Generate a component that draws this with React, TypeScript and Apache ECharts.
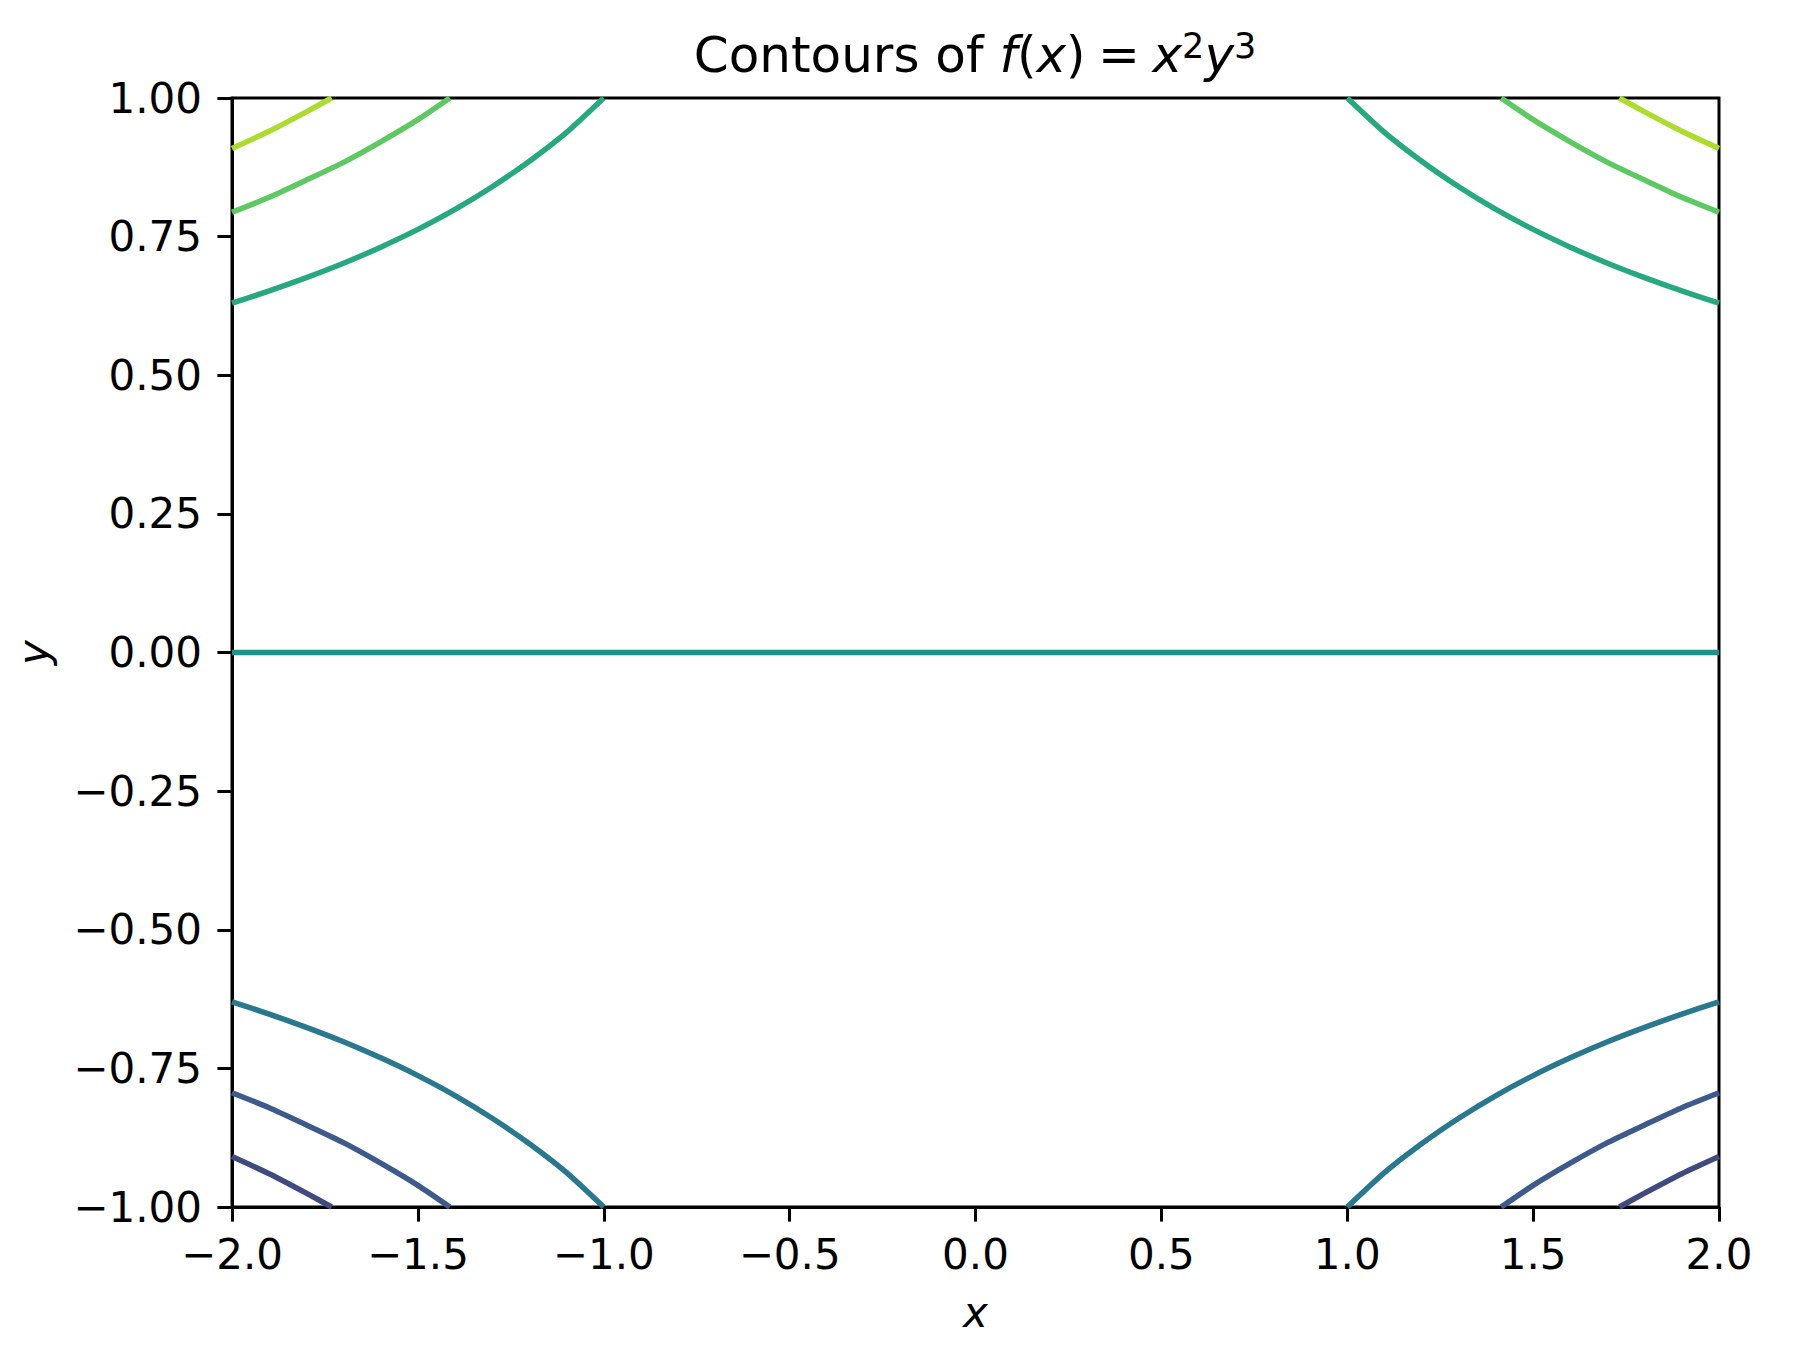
import React, { useEffect, useRef } from "react";
import * as echarts from "echarts";

// Contour levels of f = x^2 y^3 and their colours (viridis)
const levels = [-3, -2, -1, 0, 1, 2, 3];
const levelColors = ["#414a7f", "#3d5a8a", "#2a788e", "#21918c", "#28a880", "#5ec962", "#addc30"];

// Upper-left branch of each positive contour (x, y)
const branch1X = [-2.0, -1.9, -1.8, -1.7, -1.6, -1.5, -1.4, -1.3, -1.2, -1.1, -1.0];
const branch1Y = [0.63, 0.652, 0.676, 0.702, 0.731, 0.763, 0.799, 0.84, 0.886, 0.938, 1.0];
const branch2X = [-2.0, -1.9, -1.8, -1.7, -1.6, -1.5, -1.414];
const branch2Y = [0.794, 0.821, 0.852, 0.884, 0.921, 0.961, 1.0];
const branch3X = [-2.0, -1.9, -1.8, -1.732];
const branch3Y = [0.909, 0.94, 0.975, 1.0];
// Zero contour
const zeroX = [-2.0, 2.0];
const zeroY = [0.0, 0.0];

const xTicks = { min: -2, max: 2, interval: 0.5 };
const yTicks = { min: -1, max: 1, interval: 0.25 };

const FONT = "DejaVu Sans";

function App() {
  const ref = useRef<HTMLDivElement>(null);
  useEffect(() => {
    document.body.style.margin = "0";
    const chart = echarts.init(ref.current!, null, { renderer: "svg" });
    const branches: Record<number, { xs: number[]; ys: number[] }> = {
      1: { xs: branch1X, ys: branch1Y },
      2: { xs: branch2X, ys: branch2Y },
      3: { xs: branch3X, ys: branch3Y },
    };
    const series: any[] = [];
    levels.forEach((lv, i) => {
      const color = levelColors[i];
      const mk = (data: number[][]) => ({
        type: "line",
        data,
        symbol: "none",
        smooth: 0.2,
        lineStyle: { color, width: 5.5 },
        z: 2 + i,
        silent: true,
      });
      if (lv === 0) {
        series.push(mk(zeroX.map((x, k) => [x, zeroY[k]])));
        return;
      }
      const b = branches[Math.abs(lv)];
      const s = lv > 0 ? 1 : -1;
      series.push(mk(b.xs.map((x, k) => [x, s * b.ys[k]])));
      series.push(mk(b.xs.map((x, k) => [-x, s * b.ys[k]])));
    });
    const minus = (v: string) => v.replace("-", "\u2212");
    const axisFont = { fontFamily: FONT, fontSize: 42, color: "#000" };
    chart.setOption({
      animation: false,
      backgroundColor: "#fff",
      title: {
        text: "Contours of {i|f}({i|x})\u2005=\u2005{i|x}{s|2}{i|y}{s|3}",
        left: 970,
        textAlign: "center",
        top: 23,
        textStyle: {
          fontFamily: FONT,
          fontSize: 50,
          fontWeight: "normal",
          color: "#000",
          rich: {
            i: { fontFamily: FONT, fontSize: 50, fontStyle: "italic", color: "#000" },
            s: { fontFamily: FONT, fontSize: 35, color: "#000", padding: [0, 0, 18, 0] },
          },
        },
      },
      grid: {
        left: 232,
        right: 88,
        top: 98,
        bottom: 151,
        containLabel: false,
        outerBoundsMode: "none",
        show: true,
        borderColor: "#000",
        borderWidth: 3,
        backgroundColor: "transparent",
      },
      xAxis: {
        type: "value",
        min: xTicks.min,
        max: xTicks.max,
        interval: xTicks.interval,
        name: "x",
        nameLocation: "middle",
        nameGap: 84,
        nameTextStyle: { ...axisFont, fontStyle: "italic" },
        axisLine: { show: true, onZero: false, lineStyle: { color: "#000", width: 3 } },
        axisTick: { show: true, length: 14.6, lineStyle: { color: "#000", width: 3 } },
        axisLabel: {
          margin: 26,
          ...axisFont,
          formatter: (v: number) => minus(v.toFixed(1)),
        },
        splitLine: { show: false },
      },
      yAxis: {
        type: "value",
        min: yTicks.min,
        max: yTicks.max,
        interval: yTicks.interval,
        name: "y",
        nameLocation: "middle",
        nameGap: 178,
        nameRotate: 90,
        nameTextStyle: { ...axisFont, fontStyle: "italic" },
        axisLine: { show: true, onZero: false, lineStyle: { color: "#000", width: 3 } },
        axisTick: { show: true, length: 14.6, lineStyle: { color: "#000", width: 3 } },
        axisLabel: {
          margin: 30,
          ...axisFont,
          formatter: (v: number) => minus(v.toFixed(2)),
        },
        splitLine: { show: false },
      },
      series,
    });
    return () => chart.dispose();
  }, []);
  return <div ref={ref} style={{ width: 1807, height: 1358 }} />;
}

export default App;
